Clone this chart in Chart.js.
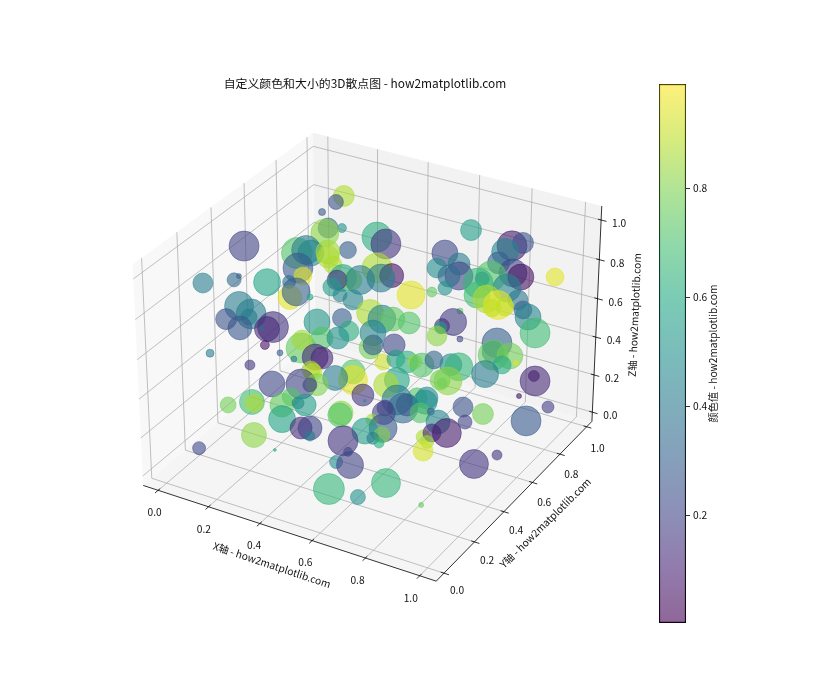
<!DOCTYPE html>
<html>
<head>
<meta charset="utf-8">
<style>
  body { margin: 0; background: #fff; }
  canvas { position: absolute; display: block; }
</style>
<script src="https://cdn.jsdelivr.net/npm/chart.js@4"></script>
</head>
<body>
<canvas id="scatter3d" width="840" height="700" style="left:0;top:0"></canvas>
<canvas id="colorbar" width="80" height="560" style="left:650px;top:74px"></canvas>
<script>
const xVals = [.159,.142,.113,.210,.162,.160,.348,.656,.390,.064,.820,.851,.807,.607,.270,.152,.159,.172,.204,.214,.804,.673,.606,.235,.180,.402,.868,.894,.959,.465,.692,.660,.800,.301,.336,.284,.363,.432,
  .775,.201,.074,.112,.112,.162,.192,.768,.665,.278,.869,.627,.563,.783,.822,.219,.219,.320,.372,.890,.853,.841,.866,.155,.901,.752,.246,.453,.178,.910,.129,.364,.502,.540,.173,.600,.746,.298,
  .716,.715,.218,.206,.196,.154,.408,.494,.925,.714,.307,.367,.852,.778,.201,.492,.503,.583,.268,.271,.845,.845,.878,.230,.097,.255,.310,.336,.547,.590,.633,.663,.689,.727,.890,.863,.171,.319,
  .330,.746,.771,.830,.464,.479,.416,.763,.757,.926,.928,.625,.749,.214,.312,.368,.342,.598,.538,.898,.299,.722,.754,.555,.659,.176,.183,.129,.283,.333,.360,.692,.700,.633,.755,.828,.956,.495,
  .495,.637,.756,.786,.869,.307,.944,.609,.854,.814,.660,.386,.417,.604,.806,.823,.844,.667,.239,.430,.642,.548,.826,.670,.072,.828,.334,.583,.953,.559,.609,.932,.756,.577,.685,.903];
const yVals = [.883,.859,.815,.786,.774,.756,.786,.883,.774,.404,.867,.886,.844,.793,.725,.590,.637,.646,.703,.688,.805,.772,.742,.685,.551,.695,.787,.794,.916,.685,.738,.728,.762,.641,.642,.631,.650,.670,
  .746,.548,.144,.268,.297,.388,.476,.731,.693,.607,.745,.672,.645,.698,.694,.437,.476,.590,.588,.786,.715,.696,.741,.229,.803,.640,.519,.564,.264,.824,.190,.530,.558,.565,.259,.569,.605,.478,
  .584,.577,.332,.314,.300,.232,.501,.513,.850,.554,.494,.498,.717,.595,.307,.498,.499,.500,.424,.426,.704,.705,.762,.353,.138,.399,.445,.446,.488,.500,.500,.499,.500,.513,.785,.737,.260,.403,
  .398,.594,.604,.679,.434,.409,.399,.545,.516,.850,.856,.447,.517,.325,.351,.363,.359,.423,.374,.799,.309,.411,.421,.358,.389,.259,.261,.187,.277,.298,.299,.371,.385,.356,.407,.533,.905,.306,
  .298,.342,.373,.391,.597,.239,.767,.313,.501,.389,.298,.231,.237,.276,.306,.334,.396,.279,.171,.215,.263,.230,.297,.255,.092,.268,.150,.204,.545,.168,.173,.424,.154,.093,.096,.126];
const zVals = [.909,.887,.852,.821,.812,.797,.823,.906,.810,.917,.894,.908,.873,.829,.767,.796,.784,.767,.748,.735,.842,.810,.785,.704,.754,.742,.826,.810,.755,.732,.778,.773,.802,.689,.690,.678,.695,.717,
  .788,.723,.903,.852,.852,.781,.736,.775,.737,.656,.778,.716,.695,.741,.738,.692,.695,.642,.637,.698,.705,.699,.683,.763,.640,.687,.651,.616,.708,.593,.713,.579,.607,.617,.694,.617,.653,.569,
  .635,.630,.611,.609,.620,.650,.549,.563,.499,.604,.479,.499,.510,.585,.530,.496,.515,.545,.460,.501,.470,.453,.422,.469,.564,.415,.415,.419,.452,.476,.477,.490,.483,.515,.374,.387,.448,.380,
  .377,.442,.434,.367,.406,.387,.380,.399,.407,.275,.245,.418,.418,.321,.341,.352,.343,.399,.358,.194,.299,.391,.396,.346,.370,.259,.255,.276,.273,.289,.289,.355,.364,.342,.386,.299,.083,.297,
  .292,.328,.355,.361,.233,.237,.104,.302,.255,.320,.292,.229,.237,.270,.301,.308,.271,.274,.176,.217,.258,.230,.290,.251,.096,.266,.153,.207,.091,.171,.173,.126,.157,.096,.099,.130];
const colorVals = [.87,.25,.28,.50,.33,.82,.62,.55,.15,.20,.08,.25,.45,.22,.30,.72,.42,.45,.85,.87,.30,.42,.48,.87,.28,.87,.20,.05,.95,.05,.20,.35,.72,.60,.80,.15,.42,.42,
  .42,.95,.42,.33,.30,.58,.35,.65,.50,.55,.45,.75,.95,.68,.87,.95,.30,.45,.45,.38,.95,.90,.90,.42,.30,.75,.60,.87,.42,.45,.25,.30,.45,.75,.42,.72,.18,.52,
  .12,.55,.15,.12,.35,.27,.62,.45,.68,.82,.72,.50,.30,.20,.05,.78,.30,.22,.75,.85,.38,.75,.78,.30,.42,.40,.12,.12,.92,.55,.62,.85,.72,.32,.95,.60,.15,.85,
  .90,.48,.65,.42,.72,.95,.42,.82,.78,.05,.12,.58,.78,.22,.20,.80,.20,.87,.15,.05,.72,.72,.48,.50,.40,.68,.87,.78,.75,.40,.55,.35,.28,.18,.50,.25,.18,.82,
  .72,.20,.72,.30,.78,.58,.28,.85,.20,.45,.27,.13,.20,.55,.87,.10,.08,.80,.82,.42,.42,.15,.85,.62,.22,.93,.60,.22,.15,.48,.20,.15,.65,.65,.50,.75];
const sizeVals = [366,187,41,67,332,651,747,366,747,747,747,366,605,561,240,798,698,561,478,402,402,402,332,269,747,747,651,561,269,478,651,402,747,605,332,332,698,651,
  163,269,332,163,21,605,140,747,163,269,651,83,651,561,651,478,651,163,332,332,698,269,269,698,269,30,30,605,747,561,366,300,651,478,212,402,605,561,
  187,120,798,519,21,478,332,561,747,332,402,402,747,30,67,402,332,402,747,332,402,747,561,30,53,30,561,402,212,269,402,163,478,269,21,269,83,269,
  269,402,651,605,478,698,519,651,83,100,747,519,332,561,747,402,163,519,402,21,269,332,402,7,747,519,269,212,478,120,402,747,402,212,478,332,120,478,
  478,439,332,41,366,605,747,120,163,478,651,402,478,561,163,269,698,212,519,83,120,747,140,83,140,332,7,67,83,140,605,698,698,798,187,21];
const xTicks = [0, 0.2, 0.4, 0.6, 0.8, 1];
const yTicks = [0, 0.2, 0.4, 0.6, 0.8, 1];
const zTicks = [0, 0.2, 0.4, 0.6, 0.8, 1];
const colorTicks = [0.2, 0.4, 0.6, 0.8];
const colorMin = 0.002, colorMax = 0.991;

const xLim = [-0.06, 1.06], yLim = [-0.05, 1.04], zLim = [-0.05, 1.07];

const fontFamily = '"Noto Sans CJK SC", "Noto Sans", sans-serif';
const viridis = [[68,1,84],[72,36,117],[65,68,135],[53,95,141],[42,120,142],[33,144,141],[34,168,132],[68,191,112],[122,209,81],[189,223,38],[253,231,37]];

function viridisColor(v, alpha) {
  const t = Math.min(Math.max(v, 0), 1) * 10;
  const i = Math.min(Math.floor(t), 9);
  const c = viridis[i].map((a, n) => Math.round(a + (viridis[i + 1][n] - a) * (t - i)));
  return `rgba(${c[0]},${c[1]},${c[2]},${alpha})`;
}

// same view as mplot3d: elev 30, azim -60, dist 10, box 4:4:3
const U = [0.8660, 0.5, 0], V = [-0.25, 0.4330, 0.8660], W = [0.4330, -0.75, 0.5];
const halfBox = [0.5952, 0.5952, 0.4464];
const viewDist = 10;

function project(x, y, z) {
  const p = [
    ((x - xLim[0]) / (xLim[1] - xLim[0]) * 2 - 1) * halfBox[0],
    ((y - yLim[0]) / (yLim[1] - yLim[0]) * 2 - 1) * halfBox[1],
    ((z - zLim[0]) / (zLim[1] - zLim[0]) * 2 - 1) * halfBox[2]
  ];
  const dot = a => a[0] * p[0] + a[1] * p[1] + a[2] * p[2];
  const f = viewDist - dot(W);
  return { x: dot(U) / f, y: dot(V) / f };
}

const gap = { x: NaN, y: NaN };
const [x0, x1] = xLim, [y0, y1] = yLim, [z0, z1] = zLim;

const gridPoints = [];
xTicks.forEach(t => gridPoints.push(project(t, y0, z0), project(t, y1, z0), project(t, y1, z1), gap));
yTicks.forEach(t => gridPoints.push(project(x1, t, z0), project(x0, t, z0), project(x0, t, z1), gap));
zTicks.forEach(t => gridPoints.push(project(x0, y0, t), project(x0, y1, t), project(x1, y1, t), gap));

const axisPoints = [
  project(x0, y0, z0), project(x1, y0, z0), project(x1, y1, z0), project(x1, y1, z1), gap
];
xTicks.forEach(t => axisPoints.push(project(t, y0 + 0.012, z0), project(t, y0 - 0.018, z0), gap));
yTicks.forEach(t => axisPoints.push(project(x1 - 0.012, t, z0), project(x1 + 0.018, t, z0), gap));
zTicks.forEach(t => axisPoints.push(project(x1 - 0.012, y1, t), project(x1 + 0.02, y1, t), gap));

function lineSet(points, color, width) {
  return { type: 'scatter', showLine: true, data: points, borderColor: color, borderWidth: width, pointRadius: 0, fill: false };
}

function paneSet(corners, color) {
  return { type: 'scatter', showLine: true, data: corners, borderColor: 'rgba(0,0,0,0)', borderWidth: 0, backgroundColor: color, pointRadius: 0, fill: 'shape' };
}

const bubbles = xVals.map((x, i) => {
  const p = project(x, yVals[i], zVals[i]);
  return { x: p.x, y: p.y, r: Math.sqrt(sizeVals[i] / 3.32) };
});
const colorNorm = v => (v - colorMin) / (colorMax - colorMin);

// the bubble chart keeps this much room around its area for the biggest bubble
const viewScale = 2820, viewCx = 371.7, viewCy = 346.2;
const inset = Math.max(...bubbles.map(b => b.r)) + 0.8;

function drawText(ctx, text, x, y, angle, size) {
  ctx.save();
  ctx.translate(x, y);
  ctx.rotate((angle || 0) * Math.PI / 180);
  ctx.font = `${size || 10.2}px ${fontFamily}`;
  ctx.fillStyle = '#111';
  ctx.textAlign = 'center';
  ctx.textBaseline = 'middle';
  ctx.fillText(text, 0, 0);
  ctx.restore();
}

const axisTextPlugin = {
  id: 'axisText',
  afterDraw(chart) {
    const ctx = chart.ctx, sx = chart.scales.x, sy = chart.scales.y;
    const at = (p, dx, dy) => [sx.getPixelForValue(p.x) + dx, sy.getPixelForValue(p.y) + dy];
    xTicks.forEach(t => { const q = at(project(t, y0, z0), -3.5 - 5.5 * t, 22); drawText(ctx, t.toFixed(1), q[0], q[1]); });
    yTicks.forEach(t => { const q = at(project(x1, t, z0), 13 - 2 * t, 17 + 4 * t); drawText(ctx, t.toFixed(1), q[0], q[1]); });
    zTicks.forEach(t => { const q = at(project(x1, y1, t), 18, 3); drawText(ctx, t.toFixed(1), q[0], q[1]); });
    let q = at(project(0.5, y0, z0), -14, 33);
    drawText(ctx, 'X轴 - how2matplotlib.com', q[0], q[1], 18.5);
    q = at(project(x1, 0.5, z0), 27, 26);
    drawText(ctx, 'Y轴 - how2matplotlib.com', q[0], q[1], -44.5);
    q = at(project(x1, y1, 0.5), 38, -3);
    drawText(ctx, 'Z轴 - how2matplotlib.com', q[0], q[1], -87.5);
    drawText(ctx, '自定义颜色和大小的3D散点图 - how2matplotlib.com', 365, 83, 0, 11.9);
  }
};

new Chart('scatter3d', {
  type: 'bubble',
  data: {
    datasets: [
      {
        data: bubbles,
        backgroundColor: colorVals.map(v => viridisColor(colorNorm(v), 0.6)),
        borderColor: colorVals.map(v => viridisColor(colorNorm(v), 0.6)),
        borderWidth: 0.8
      },
      lineSet(axisPoints, '#000', 0.8),
      lineSet(gridPoints, '#b0b0b0', 0.8),
      paneSet([project(x0, y0, z0), project(x1, y0, z0), project(x1, y1, z0), project(x0, y1, z0)], 'rgba(236,236,236,0.5)'),
      paneSet([project(x0, y1, z0), project(x1, y1, z0), project(x1, y1, z1), project(x0, y1, z1)], 'rgba(230,230,230,0.5)'),
      paneSet([project(x0, y0, z0), project(x0, y1, z0), project(x0, y1, z1), project(x0, y0, z1)], 'rgba(242,242,242,0.5)')
    ]
  },
  options: {
    responsive: false,
    animation: false,
    layout: { padding: 0 },
    scales: {
      x: { type: 'linear', display: false, min: (inset - viewCx) / viewScale, max: (840 - inset - viewCx) / viewScale },
      y: { type: 'linear', display: false, min: (viewCy - 700 + inset) / viewScale, max: (viewCy - inset) / viewScale }
    },
    plugins: { legend: { display: false }, tooltip: { enabled: false } }
  },
  plugins: [axisTextPlugin]
});

function colorbarFill(ctx) {
  const area = ctx.chart.chartArea;
  if (!area) return 'rgba(0,0,0,0)';
  const g = ctx.chart.ctx.createLinearGradient(0, area.bottom, 0, area.top);
  viridis.forEach((c, i) => g.addColorStop(i / 10, `rgba(${c[0]},${c[1]},${c[2]},0.6)`));
  return g;
}

new Chart('colorbar', {
  type: 'bar',
  data: {
    labels: ['颜色值'],
    datasets: [{
      data: [[colorMin, colorMax]],
      backgroundColor: colorbarFill,
      borderColor: '#000',
      borderWidth: 0.8,
      borderSkipped: false,
      barPercentage: 1,
      categoryPercentage: 1
    }]
  },
  options: {
    responsive: false,
    animation: false,
    layout: { padding: { left: 9, top: 10, bottom: 11, right: 0 } },
    scales: {
      x: { display: false },
      y: {
        position: 'right',
        min: colorMin,
        max: colorMax,
        afterFit(scale) { scale.width = 44; },
        afterBuildTicks(scale) { scale.ticks = colorTicks.map(v => ({ value: v })); },
        border: { display: false },
        grid: { drawOnChartArea: false, drawTicks: true, tickLength: 4, tickColor: '#000', tickWidth: 0.8 },
        ticks: { color: '#111', padding: 3, font: { family: fontFamily, size: 10.2 }, callback: v => v.toFixed(1) }
      }
    },
    plugins: { legend: { display: false }, tooltip: { enabled: false } }
  },
  plugins: [{
    id: 'colorbarLabel',
    afterDraw(chart) {
      const area = chart.chartArea;
      drawText(chart.ctx, '颜色值 - how2matplotlib.com', area.right + 27, (area.top + area.bottom) / 2, -90);
    }
  }]
});
</script>
</body>
</html>
